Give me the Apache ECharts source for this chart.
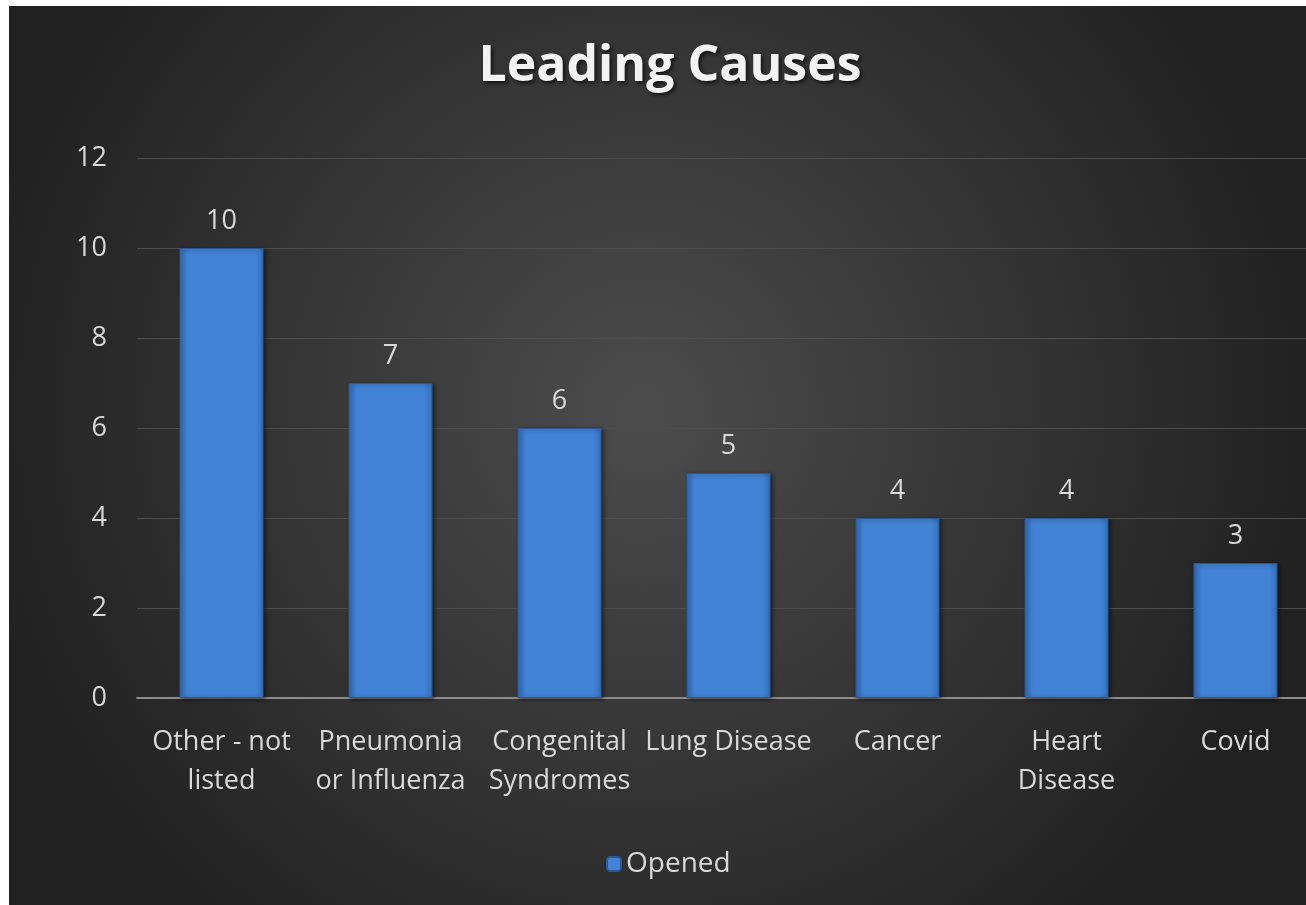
<!DOCTYPE html>
<html>
<head>
<meta charset="utf-8">
<script src="https://cdn.jsdelivr.net/npm/echarts@6/dist/echarts.min.js"></script>
<style>
  html, body { margin: 0; padding: 0; background: #ffffff; overflow: hidden; }
  #chart { position: absolute; left: 9px; top: 6px; width: 1320px; height: 899px; }
</style>
</head>
<body>
<div id="chart"></div>
<script>
var categories = ['Other - not\nlisted', 'Pneumonia\nor Influenza', 'Congenital\nSyndromes', 'Lung Disease', 'Cancer', 'Heart\nDisease', 'Covid'];
var opened = [10, 7, 6, 5, 4, 4, 3];
var seriesName = 'Opened';
var titleText = 'Leading Causes';

var chart = echarts.init(document.getElementById('chart'));

var barColor = new echarts.graphic.LinearGradient(0, 0, 1, 0, [
  { offset: 0, color: '#3470be' },
  { offset: 0.1, color: '#4283d5' },
  { offset: 0.9, color: '#4283d5' },
  { offset: 1, color: '#3470be' }
]);

var option = {
  backgroundColor: new echarts.graphic.RadialGradient(0.48, 0.45, 0.75, [
    { offset: 0, color: '#4c4c4c' },
    { offset: 1, color: '#212121' }
  ]),
  textStyle: { fontFamily: 'Open Sans' },
  title: {
    text: titleText,
    left: 656,
    textAlign: 'center',
    top: 31,
    textStyle: {
      color: '#f2f2f2',
      fontSize: 50,
      fontWeight: 'bold',
      fontFamily: 'Open Sans',
      textShadowColor: 'rgba(0,0,0,0.7)',
      textShadowBlur: 4,
      textShadowOffsetX: 2,
      textShadowOffsetY: 2
    }
  },
  legend: {
    bottom: 22,
    left: 592,
    itemWidth: 14,
    itemHeight: 14,
    itemGap: 6,
    textStyle: { color: '#d9d9d9', fontSize: 28 },
    data: [seriesName]
  },
  grid: {
    left: 128,
    top: 152,
    width: 1183,
    bottom: 207,
    containLabel: false
  },
  xAxis: {
    type: 'category',
    data: categories,
    axisLine: { lineStyle: { color: '#8c8c8c', width: 2 } },
    axisTick: { show: false },
    axisLabel: {
      color: '#d9d9d9',
      fontSize: 27,
      lineHeight: 39,
      margin: 25,
      interval: 0
    }
  },
  yAxis: {
    type: 'value',
    min: 0,
    max: 12,
    interval: 2,
    axisLine: { show: false },
    axisTick: { show: false },
    axisLabel: { color: '#d9d9d9', fontSize: 27, margin: 30 },
    splitLine: { lineStyle: { color: '#4d4d4d', width: 1 } }
  },
  series: [{
    name: seriesName,
    type: 'bar',
    data: opened,
    barWidth: 84,
    itemStyle: {
      color: barColor,
      borderColor: '#2a5896',
      borderWidth: 1,
      shadowColor: 'rgba(0,0,0,0.5)',
      shadowBlur: 4,
      shadowOffsetX: 2,
      shadowOffsetY: 1
    },
    label: {
      show: true,
      position: 'top',
      distance: 13,
      color: '#d9d9d9',
      fontSize: 27
    }
  }]
};

chart.setOption(option);
</script>
</body>
</html>
